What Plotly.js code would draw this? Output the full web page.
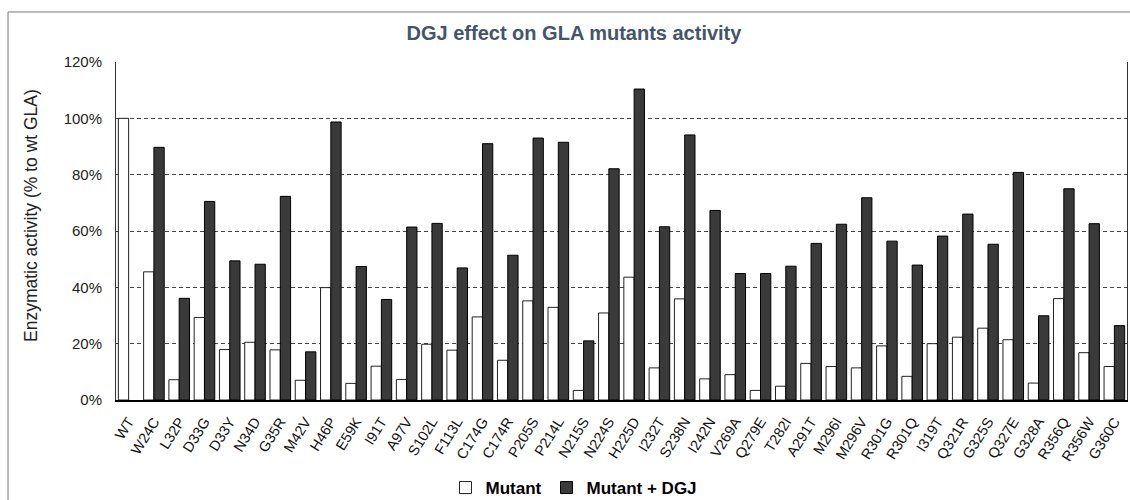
<!DOCTYPE html>
<html>
<head>
<meta charset="utf-8">
<script src="https://cdn.plot.ly/plotly-3.0.1.min.js"></script>
<style>html,body{margin:0;padding:0;background:#fff;}#chart{width:1130px;height:500px;}</style>
</head>
<body>
<div id="chart"></div>
<script>
const categories = ["WT","W24C","L32P","D33G","D33Y","N34D","G35R","M42V","H46P","E59K","I91T","A97V","S102L","F113L","C174G","C174R","P205S","P214L","N215S","N224S","H225D","I232T","S238N","I242N","V269A","Q279E","T282I","A291T","M296I","M296V","R301G","R301Q","I319T","Q321R","G325S","Q327E","G328A","R356Q","R356W","G360C"];
const mutant = [100,45.5,7.2,29.3,17.9,20.5,17.8,7.0,39.9,5.9,12.0,7.3,19.8,17.7,29.5,14.1,35.2,32.9,3.4,30.9,43.6,11.4,35.9,7.5,9.0,3.4,4.9,13.0,11.9,11.4,19.2,8.4,20.0,22.3,25.5,21.4,6.0,36.0,16.8,11.9];
const mutantDGJ = [null,89.7,36.1,70.5,49.4,48.2,72.3,17.1,98.7,47.4,35.7,61.4,62.7,46.9,91.0,51.4,93.0,91.5,21.0,82.1,110.4,61.5,94.1,67.3,44.9,44.9,47.5,55.6,62.4,71.8,56.4,47.9,58.2,66.0,55.3,80.8,29.9,75.0,62.6,26.4];
const seriesNames = ["Mutant","Mutant + DGJ"];
const chartTitle = "DGJ effect on GLA mutants activity";
const yTitle = "Enzymatic activity (% to wt GLA)";

const font = "Liberation Sans, Arial, sans-serif";
const traces = [
  {type:"bar", name:seriesNames[0], x:categories, y:mutant,
   marker:{color:"#ffffff", line:{color:"#222222", width:1}}},
  {type:"bar", name:seriesNames[1], x:categories, y:mutantDGJ,
   marker:{color:"#3a3a3a", line:{color:"#000000", width:1}}}
];
const layout = {
  width:1130, height:500,
  margin:{l:116, r:3, t:62, b:100},
  paper_bgcolor:"#ffffff", plot_bgcolor:"#ffffff",
  font:{family:font, color:"#222"},
  barmode:"group", bargap:0.185, bargroupgap:0,
  title:{text:"<b>"+chartTitle+"</b>", font:{family:font, size:20, color:"#44546A"},
         x:0.453, xref:"paper", xanchor:"center", y:1-33/500, yref:"container", yanchor:"middle"},
  xaxis:{type:"category", showline:true, linecolor:"#000", linewidth:1.5, ticks:"",
         tickangle:-58, tickfont:{size:14.5, color:"#111"}, showgrid:false, automargin:false,
         ticklabelstandoff:6},
  yaxis:{range:[0,120], dtick:20, ticksuffix:"%", showline:true, mirror:true, linecolor:"#333", linewidth:1,
         showgrid:true, gridcolor:"#444", griddash:"4px,3px", gridwidth:1, zeroline:false,
         ticks:"", tickfont:{size:15, color:"#222"}, ticklabelstandoff:10, automargin:false},
  annotations:[{text:yTitle, textangle:-90, xref:"paper", yref:"paper",
                x:(31-116)/1011, y:(400-216)/338, xanchor:"center", yanchor:"middle",
                showarrow:false, font:{family:font, size:17.5, color:"#222"}}],
  legend:{orientation:"h", x:0.453, xanchor:"center", xref:"paper", y:1-488/500, yref:"container", yanchor:"middle",
          font:{family:font, size:17, color:"#000", weight:"bold"}, itemwidth:30, traceorder:"normal"},
  shapes:[{type:"rect", xref:"paper", yref:"paper", x0:-0.1068, x1:1.02, y0:-0.6, y1:1.148,
           line:{color:"#777", width:1}, fillcolor:"rgba(0,0,0,0)", layer:"below"}],
  showlegend:true
};
Plotly.newPlot("chart", traces, layout, {displayModeBar:false, staticPlot:true});
</script>
</body>
</html>
